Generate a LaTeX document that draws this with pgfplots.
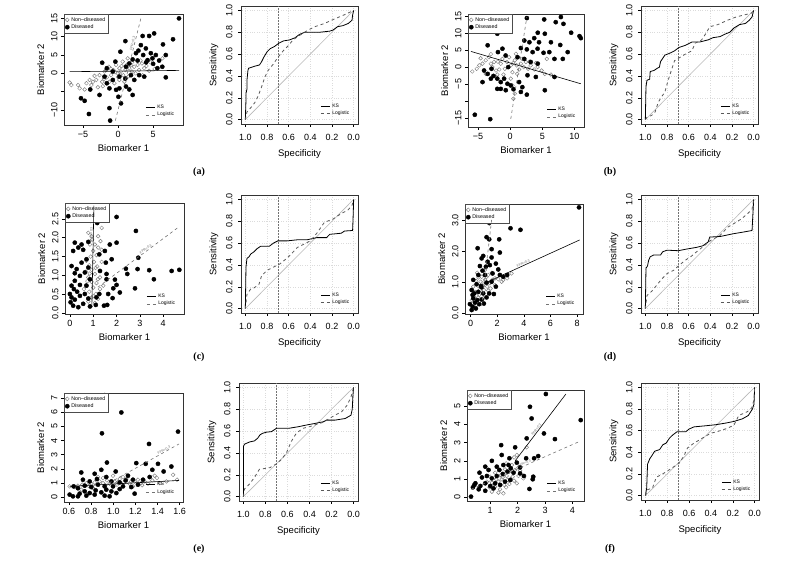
\documentclass[border=0pt]{standalone}
\usepackage{pgfplots}
\pgfplotsset{compat=1.18}
\usepackage{fontspec}
\setmainfont{Liberation Sans}
\newfontfamily\serif{Liberation Serif}
\tikzset{fpr/.style={sloped, above, inner sep=0.5pt, font=\fontsize{3.5}{4}\selectfont, text=black!55}}
\pgfplotsset{
 rbase/.style={scale only axis, clip=true,
   axis line style={black!80, line width=0.5pt},
   tick align=outside, tick pos=left,
   major tick length=3pt, every tick/.style={black, line width=0.5pt},
   /pgf/number format/assume math mode=true,
   tick label style={font=\fontsize{9}{10}\selectfont},
   label style={font=\fontsize{9.5}{11}\selectfont},
   yticklabel style={rotate=90, anchor=south},
 },
 scat/.style={rbase, xlabel={Biomarker 1}, ylabel={Biomarker 2},
   legend style={at={(0,1)}, anchor=north west, draw=black!70, fill=white,
     font=\fontsize{5.3}{5.5}\selectfont, inner sep=1pt, row sep=-2pt,
     legend cell align=left},
 },
 lines/.style={scale only axis, hide axis,
   legend style={at={(0.97,0.03)}, anchor=south east, draw=none, fill=none,
     font=\fontsize{5}{5.5}\selectfont, row sep=-1.5pt, legend cell align=left},
   legend image code/.code={\draw[##1] (0pt,0pt) -- (9pt,0pt);}},
 roc/.style={rbase, width=117pt, height=118pt, anchor=south west,
   xmin=-0.04,xmax=1.04,ymin=-0.04,ymax=1.04, x dir=reverse,
   xtick={0,0.2,0.4,0.6,0.8,1}, ytick={0,0.2,0.4,0.6,0.8,1},
   xticklabels={0.0,0.2,0.4,0.6,0.8,1.0}, yticklabels={0.0,0.2,0.4,0.6,0.8,1.0},
   xticklabel style={yshift=-4pt}, xlabel style={yshift=-1.5pt},
   yticklabel style={yshift=2pt}, ylabel style={yshift=1pt},
   grid=major, grid style={dotted, black!14},
   xlabel=Specificity, ylabel=Sensitivity,
   legend style={at={(0.97,0.03)}, anchor=south east, draw=none, fill=none,
     font=\fontsize{5}{5.5}\selectfont, row sep=-1.5pt, legend cell align=left},
   legend image code/.code={\draw[##1] (0pt,0pt) -- (9pt,0pt);}},
 nd/.style={only marks, mark=o, mark size=1.9pt, black!50, line width=0.45pt},
 di/.style={only marks, mark=*, mark size=2.1pt, black},
 ks/.style={black, line width=0.6pt},
 lg/.style={black!55, dashed, line width=0.6pt},
 rks/.style={black, line width=0.8pt},
 rlg/.style={black!65, dashed, line width=0.8pt},
 diag/.style={black!28, line width=0.6pt, forget plot},
 vl/.style={black!55, dash pattern=on 1.5pt off 1.5pt, line width=0.4pt, forget plot},
 pa/.style={at={(64pt,439pt)}, anchor=south west, width=119pt, height=111pt, xmin=-7.7, xmax=9.25, ymin=-14.1, ymax=16.2},
 pb/.style={at={(468pt,437pt)}, anchor=south west, width=116pt, height=113pt, xmin=-6.56, xmax=11.5, ymin=-17.6, ymax=15.6},
 pc/.style={at={(65pt,250pt)}, anchor=south west, width=119pt, height=111pt, xmin=-0.21, xmax=4.89, ymin=-0.02, ymax=2.92},
 pd/.style={at={(465pt,250pt)}, anchor=south west, width=118pt, height=110pt, xmin=-0.42, xmax=8.45, ymin=-0.04, ymax=3.54},
 pe/.style={at={(64pt,62pt)}, anchor=south west, width=119pt, height=109pt, xmin=0.555, xmax=1.63, ymin=-0.33, ymax=7.35},
 pf/.style={at={(467pt,63pt)}, anchor=south west, width=117pt, height=111pt, xmin=0.154, xmax=4.42, ymin=-0.2, ymax=5.88},
}
\begin{document}
\begin{tikzpicture}
\path[use as bounding box] (0pt,0pt) rectangle (800pt,564pt);

% ================= (a) scatter
\begin{axis}[scat, pa, xtick={-5,0,5}, xticklabels={−5,0,5},
  ytick={-10,-5,0,5,10,15}, yticklabels={−10,,0,5,10,15}]
\addplot[nd] coordinates {(-6.9,-2.5)(-6.65,-3.2)(-5.7,-3.2)(-5.47,-4.1)(-4.76,-4.4)(-4.06,-1.8)(-3.58,-2.3)(-3.1,-1.8)(-2.88,-3.8)(-2.64,-0.5)(-2.26,-2.3)(-1.93,0.5)(-1.6,-1.1)(-1.32,1.8)(-0.99,-0.5)(-0.66,0.9)(-0.28,2.3)(-0.05,0)(0.19,1.4)(0.42,0.5)(0.75,-0.5)(1.04,0.9)(1.23,2.3)(1.6,1.4)(1.98,0.5)(2.3,1.8)(2.78,2.3)(3.0,0.9)(3.4,2.7)(3.73,1.4)(4.05,2.0)(3.5,-0.5)(4.43,0.7)(0.19,-1.8)(-0.52,-2.7)(-1.23,-2.3)(-3.35,-0.7)(-2.17,-3.5)(6.32,4.1)(1.37,4.1)(0.66,3.2)(-1.7,0.9)(-4.5,-2.7)(0.9,-2.3)(-1.0,1.2)(0.0,-1.0)(0.5,2.0)(1.5,-0.8)(2.5,0.0)(-0.4,0.3)(1.0,-1.5)(2.0,3.0)(3.2,3.5)(-2.0,-1.5)(4.6,3.0)(5.2,1.2)(-3.8,-3.2)(0.3,-0.3)(1.8,2.2)};
\addlegendentry{Non--diseased}
\addplot[di] coordinates {(8.68,15.0)(7.83,9.3)(5.14,10.9)(4.43,10.2)(3.5,10.2)(6.4,7.9)(1.04,8.8)(0.33,5.9)(3.25,7.7)(3.96,6.8)(4.67,5.5)(5.38,5.0)(3.58,5.0)(2.55,5.5)(2.08,3.8)(1.6,2.7)(1.13,1.8)(2.78,3.5)(4.2,3.6)(4.9,4.1)(5.85,3.5)(6.3,1.8)(6.8,5)(-0.38,3.2)(-2.26,2.9)(-1.6,1.4)(-0.75,0.5)(0.19,-0.9)(1.04,-1.4)(1.84,-0.5)(2.31,-1.8)(3.0,-0.5)(3.73,-0.9)(-1.6,-2.7)(-1.23,-4.1)(-0.28,-4.5)(0.19,-4.1)(1.13,-3.6)(1.6,-4.4)(-3.96,-4.4)(-2.64,-5.9)(0.05,-6.4)(0.42,-8.2)(2.08,-5.9)(-5.28,-6.8)(-4.76,-7.5)(-1.23,-9.5)(-4.15,-11.1)(-1.13,-12.9)(6.8,-1.1)(5.6,1.4)(-1.93,-0.9)(-0.75,-1.8)(2.9,6.2)(4.0,3.0)(5.0,2.6)};
\addlegendentry{Diseased}
\end{axis}
\begin{axis}[lines, pa]
\addplot[ks] coordinates {(-6.9,0.45)(8.7,0.8)};
\addlegendentry{KS}
\addplot[lg] coordinates {(-0.38,-12.9)(3.25,15)} node[fpr, pos=0.75] {FPR=0.3};
\addlegendentry{Logistic}
\end{axis}

% ================= (a) ROC
\begin{axis}[roc, at={(241pt,440pt)}]
\addplot[diag] coordinates {(1,0)(0,1)};
\addplot[vl] coordinates {(0.7,-0.04)(0.7,1.04)};
\addplot[rks] coordinates {(1,0)(0.994,0.18)(0.994,0.24)(0.985,0.28)(0.985,0.36)(0.976,0.45)(0.97,0.47)(0.91,0.49)(0.87,0.50)(0.85,0.53)(0.83,0.57)(0.80,0.62)(0.77,0.65)(0.73,0.67)(0.69,0.70)(0.65,0.72)(0.59,0.73)(0.54,0.75)(0.50,0.78)(0.45,0.80)(0.39,0.80)(0.31,0.80)(0.22,0.81)(0.19,0.82)(0.15,0.85)(0.10,0.86)(0.05,0.88)(0.015,0.91)(0.01,0.955)(0,1)};
\addlegendentry{KS}
\addplot[rlg] coordinates {(1,0)(0.985,0.07)(0.94,0.12)(0.91,0.16)(0.88,0.22)(0.85,0.30)(0.82,0.39)(0.79,0.45)(0.74,0.51)(0.70,0.57)(0.65,0.63)(0.60,0.68)(0.56,0.73)(0.50,0.77)(0.42,0.82)(0.36,0.85)(0.27,0.88)(0.18,0.92)(0.085,0.96)(0,1)};
\addlegendentry{Logistic}
\end{axis}

% ================= (b) scatter
\begin{axis}[scat, pb, xtick={-5,0,5,10}, xticklabels={−5,0,5,10},
  ytick={-15,-10,-5,0,5,10,15}, yticklabels={−15,,−5,0,5,10,15}]
\addplot[nd] coordinates {(-5.9,-1.3)(-5.2,-0.5)(-4.8,0.5)(-4.3,1.0)(-4.6,2.6)(-3.8,2.0)(-3.3,2.9)(-2.76,0)(-2.5,1.5)(-2.2,-1.0)(-1.46,1.0)(-1.2,2.4)(-0.83,-0.5)(-0.52,1.5)(-0.16,2.9)(0.1,0.5)(0.36,-1.5)(0.73,2.0)(1.04,0.5)(1.4,-0.7)(1.67,1.0)(2.1,0)(2.45,1.5)(2.8,-0.5)(3.2,0.5)(3.75,-0.7)(4.27,0)(4.9,-1.0)(5.7,2.4)(5.4,-2.0)(6.35,-2.2)(0.1,-3.4)(0.36,-5.4)(0.5,-9.3)(0.73,-7.8)(-3.0,1.0)(-3.8,-2.0)(-2.0,-2.2)(-1.04,-2.2)(0.9,3.9)(-1.7,-0.7)(-3.0,3.8)(-1.9,1.6)(0.5,1.2)(1.9,2.4)(3.0,1.6)(4.0,1.2)(-2.2,-3.0)(1.1,-2.0)};
\addlegendentry{Non--diseased}
\addplot[di] coordinates {(2.6,14.4)(5.3,14.0)(7.1,13.2)(7.9,14.7)(8.3,12.7)(9.5,10.1)(10.8,9.1)(11.0,8.5)(-2.0,9.8)(4.3,10.1)(5.4,9.8)(3.75,8.5)(2.2,7.8)(3.0,7.3)(4.5,7.3)(6.35,7.3)(7.8,6.5)(8.96,4.4)(1.67,5.6)(2.6,5.2)(3.5,4.4)(4.27,5.4)(5.2,4.2)(6.1,4.4)(6.9,2.4)(8.2,2.4)(1.15,2.9)(2.2,2.4)(3.2,1.5)(4.3,1.0)(-3.5,6.4)(-1.9,4.4)(-1.2,5.4)(-0.7,3.4)(-4.06,-1.0)(-3.5,-2.0)(-3.0,-3.4)(-2.6,-2.6)(-2.0,-3.4)(-1.46,-4.4)(-0.94,-3.4)(-0.42,-4.9)(0.1,-5.4)(-1.46,-6.4)(-0.68,-6.8)(0.52,-6.5)(1.67,-7.3)(2.6,-8.1)(1.9,-5.9)(1.4,-4.4)(-4.3,-4.4)(-2.0,-6.4)(5.4,-6.8)(2.7,-2.4)(4.0,-2.9)(6.9,-2.9)(-5.5,-14.0)(-3.1,-15.3)(-2.9,-0.5)(-0.3,0)};
\addlegendentry{Diseased}
\end{axis}
\begin{axis}[lines, pb]
\addplot[ks] coordinates {(-6.1,4.6)(11.0,-4.9)};
\addlegendentry{KS}
\addplot[lg] coordinates {(0.1,-15.2)(2.6,14.7)};
\addlegendentry{Logistic}
\end{axis}

% ================= (b) ROC
\begin{axis}[roc, at={(641pt,440pt)}]
\addplot[diag] coordinates {(1,0)(0,1)};
\addplot[vl] coordinates {(0.7,-0.04)(0.7,1.04)};
\addplot[rks] coordinates {(1,0)(0.994,0.30)(0.985,0.36)(0.96,0.37)(0.955,0.44)(0.92,0.45)(0.89,0.47)(0.87,0.48)(0.86,0.53)(0.84,0.56)(0.82,0.59)(0.77,0.61)(0.73,0.63)(0.69,0.66)(0.63,0.68)(0.57,0.71)(0.50,0.71)(0.42,0.73)(0.375,0.75)(0.31,0.76)(0.27,0.78)(0.22,0.80)(0.18,0.84)(0.13,0.87)(0.076,0.88)(0.04,0.91)(0.015,0.94)(0,1)};
\addlegendentry{KS}
\addplot[rlg] coordinates {(1,0)(0.985,0.02)(0.94,0.04)(0.91,0.07)(0.88,0.16)(0.85,0.21)(0.82,0.25)(0.79,0.36)(0.76,0.45)(0.73,0.54)(0.68,0.57)(0.63,0.60)(0.57,0.63)(0.54,0.70)(0.48,0.73)(0.44,0.79)(0.405,0.85)(0.33,0.87)(0.24,0.91)(0.16,0.94)(0.10,0.955)(0.02,0.975)(0,1)};
\addlegendentry{Logistic}
\end{axis}

% ================= (c) scatter
\begin{axis}[scat, pc, xtick={0,1,2,3,4}, xticklabels={0,1,2,3,4},
  ytick={0,0.5,1,1.5,2,2.5}, yticklabels={0.0,0.5,1.0,1.5,2.0,2.5}]
\addplot[nd] coordinates {(0.97,2.76)(1.03,2.66)(0.86,2.59)(1.14,2.55)(0.89,2.44)(1.21,2.44)(1.36,2.26)(0.79,2.13)(0.93,2.04)(1.21,2.04)(1.31,1.91)(1.07,1.82)(0.86,1.82)(1.21,1.74)(1.36,1.68)(1.0,1.65)(1.14,1.54)(0.89,1.5)(0.71,1.39)(1.03,1.36)(0.83,1.27)(1.17,1.24)(0.93,1.15)(0.69,1.1)(1.07,1.04)(1.29,0.95)(0.79,0.95)(0.93,0.83)(1.14,0.8)(0.69,0.75)(1.0,0.68)(1.29,0.64)(0.83,0.57)(1.11,0.51)(0.93,0.42)(1.21,0.38)(0.79,0.31)(1.07,0.27)(0.89,0.18)(0.6,0.64)(1.43,0.73)(1.36,1.36)(0.95,1.95)(1.1,1.2)(0.75,0.85)(1.0,0.45)(0.85,1.05)(1.2,0.9)};
\addlegendentry{Non--diseased}
\addplot[di] coordinates {(2.0,2.55)(2.83,2.18)(1.17,2.39)(0.21,1.87)(0.5,1.82)(0.36,1.74)(0.57,1.68)(0.14,1.65)(0.79,1.89)(1.71,1.82)(2.0,1.87)(1.5,1.65)(1.26,1.56)(1.54,1.34)(1.79,1.43)(2.93,1.47)(0.07,1.25)(0.29,1.17)(0.5,1.34)(0.71,1.43)(0.21,1.06)(0.43,0.99)(0.64,1.08)(0.79,1.21)(1.29,1.12)(1.57,1.04)(2.4,1.18)(2.46,1.04)(2.9,1.17)(3.4,1.14)(4.36,1.12)(4.69,1.15)(3.6,0.9)(1.93,0.89)(2.0,0.75)(1.86,0.66)(2.14,0.55)(2.79,0.66)(1.57,0.9)(1.64,0.51)(1.83,0.4)(1.6,0.22)(1.46,0.2)(1.11,0.22)(0.07,0.73)(0.17,0.64)(0.31,0.57)(0,0.51)(0.07,0.42)(0.21,0.36)(0.43,0.46)(0.64,0.51)(0.79,0.39)(0.03,0.29)(0.14,0.2)(0.36,0.16)(0.57,0.25)(0.86,0.18)(0.21,0.86)(0.43,0.75)(1.26,0.51)(1.14,0.42)(0.71,0.73)(0.86,0.9)};
\addlegendentry{Diseased}
\end{axis}
\begin{axis}[lines, pc]
\addplot[ks] coordinates {(0.94,0.16)(1.03,2.85)} node[fpr, pos=0.72] {FPR=0.3};
\addlegendentry{KS}
\addplot[lg] coordinates {(1.2,0.69)(4.7,2.3)} node[fpr, pos=0.6] {FPR=0.3};
\addlegendentry{Logistic}
\end{axis}

% ================= (c) ROC
\begin{axis}[roc, at={(241pt,251pt)}]
\addplot[diag] coordinates {(1,0)(0,1)};
\addplot[vl] coordinates {(0.7,-0.04)(0.7,1.04)};
\addplot[rks] coordinates {(1,0)(0.994,0.38)(0.985,0.46)(0.965,0.475)(0.95,0.50)(0.92,0.52)(0.89,0.55)(0.86,0.57)(0.78,0.57)(0.74,0.60)(0.70,0.62)(0.615,0.62)(0.52,0.63)(0.43,0.63)(0.34,0.65)(0.25,0.65)(0.22,0.68)(0.115,0.69)(0.085,0.71)(0.01,0.715)(0.006,0.81)(0,1)};
\addlegendentry{KS}
\addplot[rlg] coordinates {(1,0)(0.985,0.13)(0.95,0.18)(0.92,0.19)(0.875,0.22)(0.85,0.30)(0.80,0.35)(0.74,0.38)(0.68,0.41)(0.63,0.45)(0.585,0.49)(0.52,0.56)(0.46,0.59)(0.40,0.62)(0.34,0.69)(0.27,0.79)(0.19,0.82)(0.115,0.87)(0.055,0.90)(0.015,0.945)(0,1)};
\addlegendentry{Logistic}
\end{axis}

% ================= (d) scatter
\begin{axis}[scat, pd, xtick={0,2,4,6,8}, xticklabels={0,2,4,6,8},
  ytick={0,1,2,3}, yticklabels={0.0,1.0,2.0,3.0}]
\addplot[nd] coordinates {(0.2,0.85)(0.4,1.04)(0.58,0.87)(0.75,1.01)(0.95,0.87)(1.08,1.07)(1.25,0.85)(1.45,0.96)(1.65,1.07)(1.83,1.12)(2.08,1.09)(0.33,0.68)(0.65,0.58)(1.0,0.74)(1.33,0.72)(0.25,0.52)(0.58,0.5)(0.95,0.47)(0.08,0.41)(0.45,0.25)(0.2,0.63)(0.83,1.17)(0.5,1.3)(1.08,1.39)(1.33,1.23)(2.45,1.07)(2.75,1.12)(3.08,1.28)(1.2,1.17)(0.7,0.74)(1.5,0.79)(1.83,0.9)(2.33,1.01)(1.4,2.9)(1.0,0.95)(0.6,1.15)(1.6,1.3)};
\addlegendentry{Non--diseased}
\addplot[di] coordinates {(8.15,3.43)(0.83,3.4)(1.4,2.93)(3.0,2.75)(3.75,2.7)(1.2,2.46)(1.4,2.39)(2.15,2.39)(2.2,1.96)(0.53,2.1)(0.95,1.85)(0.83,1.77)(1.58,1.8)(1.28,1.66)(1.15,1.5)(1.45,1.55)(1.9,1.6)(2.08,1.41)(0.9,1.37)(1.08,1.23)(0.58,1.23)(1.65,1.28)(2.2,1.23)(2.75,1.23)(0.2,1.07)(0.45,0.93)(0.78,0.87)(1.2,0.98)(1.58,1.01)(0.08,0.74)(0.28,0.63)(0.58,0.68)(0.95,0.63)(1.4,0.63)(1.75,0.61)(0.2,0.47)(0.5,0.41)(0.83,0.43)(1.2,0.5)(-0.05,0.28)(0.15,0.2)(0.4,0.14)(0.08,0.09)(0.65,0.28)(1.0,0.3)(0.33,0.33)(1.9,0.85)(0.7,1.52)(1.58,2.07)(0.15,0.58)(0.83,0.83)(2.45,1.17)};
\addlegendentry{Diseased}
\end{axis}
\begin{axis}[lines, pd]
\addplot[ks] coordinates {(1.0,0.95)(8.2,2.37)} node[fpr, pos=0.42] {FPR=0.3};
\addlegendentry{KS}
\addplot[lg] coordinates {(0.83,0.22)(1.58,3.02)};
\addlegendentry{Logistic}
\end{axis}

% ================= (d) ROC
\begin{axis}[roc, at={(641pt,251pt)}]
\addplot[diag] coordinates {(1,0)(0,1)};
\addplot[vl] coordinates {(0.7,-0.04)(0.7,1.04)};
\addplot[rks] coordinates {(1,0)(0.994,0.37)(0.98,0.39)(0.97,0.44)(0.955,0.475)(0.925,0.49)(0.86,0.49)(0.84,0.52)(0.80,0.535)(0.695,0.53)(0.62,0.545)(0.53,0.56)(0.47,0.575)(0.42,0.61)(0.405,0.655)(0.31,0.66)(0.19,0.685)(0.10,0.70)(0.015,0.715)(0.01,0.81)(0,1)};
\addlegendentry{KS}
\addplot[rlg] coordinates {(1,0)(0.985,0.12)(0.94,0.16)(0.89,0.22)(0.85,0.27)(0.80,0.32)(0.74,0.35)(0.695,0.39)(0.635,0.44)(0.575,0.48)(0.515,0.53)(0.45,0.58)(0.405,0.62)(0.31,0.67)(0.24,0.745)(0.18,0.78)(0.115,0.82)(0.055,0.87)(0.015,0.91)(0,1)};
\addlegendentry{Logistic}
\end{axis}

% ================= (e) scatter
\begin{axis}[scat, pe, xtick={0.6,0.8,1.0,1.2,1.4,1.6}, xticklabels={0.6,0.8,1.0,1.2,1.4,1.6},
  ytick={0,1,2,3,4,5,6,7}, yticklabels={0,1,2,3,4,5,6,7}]
\addplot[nd] coordinates {(0.606,0.77)(0.651,0.72)(0.681,0.82)(0.72,0.89)(0.757,1.0)(0.802,0.96)(0.832,1.05)(0.877,1.12)(0.907,1.0)(0.943,1.19)(0.967,0.96)(1.013,1.12)(1.034,0.89)(1.058,1.29)(1.094,1.0)(1.118,1.29)(1.148,0.96)(1.193,1.12)(1.223,1.24)(1.253,1.0)(1.284,1.12)(1.314,0.96)(1.353,1.19)(1.374,1.52)(1.395,1.36)(1.419,1.0)(1.54,1.59)(1.48,1.12)(1.576,1.24)(0.862,1.43)(0.998,1.52)(0.907,1.36)(1.088,1.43)(0.817,0.65)(1.178,0.77)(0.711,0.54)(0.78,0.8)(0.93,0.85)(1.04,1.05)(1.16,1.1)(1.26,0.85)(0.68,0.6)};
\addlegendentry{Non--diseased}
\addplot[di] coordinates {(0.922,7.2)(1.073,5.98)(0.898,4.51)(1.323,3.76)(1.585,4.63)(0.943,2.45)(1.208,2.41)(1.293,2.36)(1.404,2.36)(0.711,1.75)(0.892,1.94)(1.022,1.82)(0.832,1.66)(1.353,1.94)(1.455,1.82)(1.525,2.17)(1.133,1.52)(1.178,1.24)(1.269,1.24)(1.329,1.43)(0.726,1.24)(0.787,1.12)(0.853,1.29)(0.937,1.43)(0.983,1.12)(1.058,1.05)(1.112,1.19)(0.642,0.77)(0.681,0.65)(0.742,0.82)(0.802,0.72)(0.862,0.89)(0.922,0.77)(0.998,0.77)(1.088,0.77)(1.163,0.72)(0.606,0.19)(0.636,0.07)(0.696,0.26)(0.742,0.42)(0.787,0.3)(0.841,0.49)(0.892,0.35)(0.937,0.54)(0.983,0.42)(0.922,0.12)(0.967,0.07)(1.028,0.3)(1.193,0.26)(0.681,0.07)(0.757,0.12)(0.832,0.19)(1.058,0.58)(1.223,0.89)};
\addlegendentry{Diseased}
\end{axis}
\begin{axis}[lines, pe]
\addplot[ks] coordinates {(0.606,0.77)(1.594,1.19)};
\addlegendentry{KS}
\addplot[lg] coordinates {(0.96,1.0)(1.594,3.76)} node[fpr, pos=0.8] {FPR=0.3};
\addlegendentry{Logistic}
\end{axis}

% ================= (e) ROC
\begin{axis}[roc, width=119pt, at={(239pt,63pt)}]
\addplot[diag] coordinates {(1,0)(0,1)};
\addplot[vl] coordinates {(0.7,-0.04)(0.7,1.04)};
\addplot[rks] coordinates {(1,0)(1.0,0.46)(0.99,0.48)(0.945,0.50)(0.90,0.51)(0.87,0.535)(0.85,0.565)(0.825,0.58)(0.79,0.59)(0.745,0.595)(0.70,0.625)(0.59,0.625)(0.50,0.64)(0.43,0.655)(0.35,0.67)(0.275,0.685)(0.245,0.70)(0.17,0.70)(0.076,0.715)(0.024,0.745)(0.012,0.80)(0.006,0.925)(0,1)};
\addlegendentry{KS}
\addplot[rlg] coordinates {(1,0)(0.99,0.07)(0.945,0.115)(0.90,0.175)(0.855,0.25)(0.76,0.265)(0.70,0.30)(0.655,0.34)(0.61,0.40)(0.565,0.505)(0.52,0.58)(0.46,0.625)(0.40,0.64)(0.34,0.66)(0.275,0.68)(0.245,0.70)(0.17,0.745)(0.11,0.775)(0.06,0.835)(0.024,0.91)(0,1)};
\addlegendentry{Logistic}
\end{axis}

% ================= (f) scatter
\begin{axis}[scat, pf, xtick={1,2,3,4}, xticklabels={1,2,3,4},
  ytick={0,1,2,3,4,5}, yticklabels={0,1,2,3,4,5}]
\addplot[nd] coordinates {(1.97,2.32)(1.87,2.19)(2.33,2.74)(1.58,1.86)(1.79,1.77)(2.03,1.64)(1.36,1.5)(1.54,1.53)(1.7,1.41)(1.91,1.5)(2.09,1.46)(1.18,1.35)(1.39,1.22)(1.6,1.17)(1.82,1.13)(2.03,1.17)(1.0,1.13)(1.22,0.99)(1.42,0.99)(1.63,0.95)(1.87,0.91)(0.88,0.86)(1.06,0.8)(1.3,0.86)(1.51,0.68)(1.7,0.73)(0.98,0.55)(1.18,0.58)(1.36,0.44)(1.58,0.55)(1.06,0.31)(1.3,0.26)(1.48,0.22)(1.97,0.77)(2.21,1.04)(1.45,1.1)(1.75,1.0)(1.15,0.7)};
\addlegendentry{Non--diseased}
\addplot[di] coordinates {(3.03,5.66)(2.45,4.96)(2.51,4.32)(4.3,4.23)(2.96,3.5)(3.36,3.19)(2.33,3.23)(1.4,2.86)(1.91,2.74)(2.75,2.26)(2.6,2.14)(2.31,2.14)(1.06,2.0)(0.82,1.68)(0.94,1.5)(1.42,2.32)(1.7,2.14)(1.97,1.9)(1.48,1.77)(1.24,1.68)(1.75,1.59)(2.09,1.64)(2.23,1.17)(2.57,1.13)(2.55,0.99)(2.43,0.46)(0.61,1.35)(0.7,1.09)(0.88,1.17)(1.06,1.04)(1.24,1.17)(1.46,1.28)(1.63,1.41)(1.85,1.35)(0.46,0.77)(0.64,0.62)(0.82,0.77)(1.0,0.62)(1.18,0.77)(1.36,0.68)(1.54,0.86)(1.73,0.95)(0.58,0.44)(0.82,0.36)(1.12,0.49)(0.42,0.68)(0.3,0.04)(0.37,0.55)(2.09,1.31)(1.67,1.77)(1.33,1.5)};
\addlegendentry{Diseased}
\end{axis}
\begin{axis}[lines, pf]
\addplot[ks] coordinates {(1.91,2.0)(3.76,5.66)} node[fpr, pos=0.45] {FPR=0.3};
\addlegendentry{KS}
\addplot[lg] coordinates {(0.3,0.44)(4.24,3.05)} node[fpr, pos=0.5] {FPR=0.3};
\addlegendentry{Logistic}
\end{axis}

% ================= (f) ROC
\begin{axis}[roc, width=118pt, height=117pt, at={(641pt,64pt)}]
\addplot[diag] coordinates {(1,0)(0,1)};
\addplot[vl] coordinates {(0.7,-0.04)(0.7,1.04)};
\addplot[rks] coordinates {(1,0)(0.988,0.07)(0.98,0.29)(0.96,0.34)(0.94,0.37)(0.915,0.41)(0.87,0.425)(0.84,0.47)(0.81,0.485)(0.78,0.53)(0.75,0.56)(0.71,0.59)(0.63,0.59)(0.60,0.615)(0.555,0.635)(0.45,0.645)(0.355,0.655)(0.265,0.67)(0.19,0.685)(0.11,0.71)(0.058,0.74)(0.02,0.80)(0.006,0.845)(0,1)};
\addlegendentry{KS}
\addplot[rlg] coordinates {(1,0)(0.98,0.055)(0.935,0.07)(0.90,0.17)(0.86,0.19)(0.81,0.22)(0.75,0.26)(0.69,0.30)(0.645,0.37)(0.615,0.44)(0.555,0.485)(0.48,0.53)(0.405,0.575)(0.33,0.595)(0.255,0.62)(0.19,0.65)(0.145,0.74)(0.067,0.775)(0.027,0.81)(0.006,0.885)(0,1)};
\addlegendentry{Logistic}
\end{axis}

% sub-figure labels
\node[font=\serif\bfseries\fontsize{10}{12}\selectfont] at (199pt,392pt) {(a)};
\node[font=\serif\bfseries\fontsize{10}{12}\selectfont] at (610pt,392pt) {(b)};
\node[font=\serif\bfseries\fontsize{10}{12}\selectfont] at (199pt,207pt) {(c)};
\node[font=\serif\bfseries\fontsize{10}{12}\selectfont] at (610pt,207pt) {(d)};
\node[font=\serif\bfseries\fontsize{10}{12}\selectfont] at (199pt,15pt) {(e)};
\node[font=\serif\bfseries\fontsize{10}{12}\selectfont] at (610pt,15pt) {(f)};
\end{tikzpicture}
\end{document}
